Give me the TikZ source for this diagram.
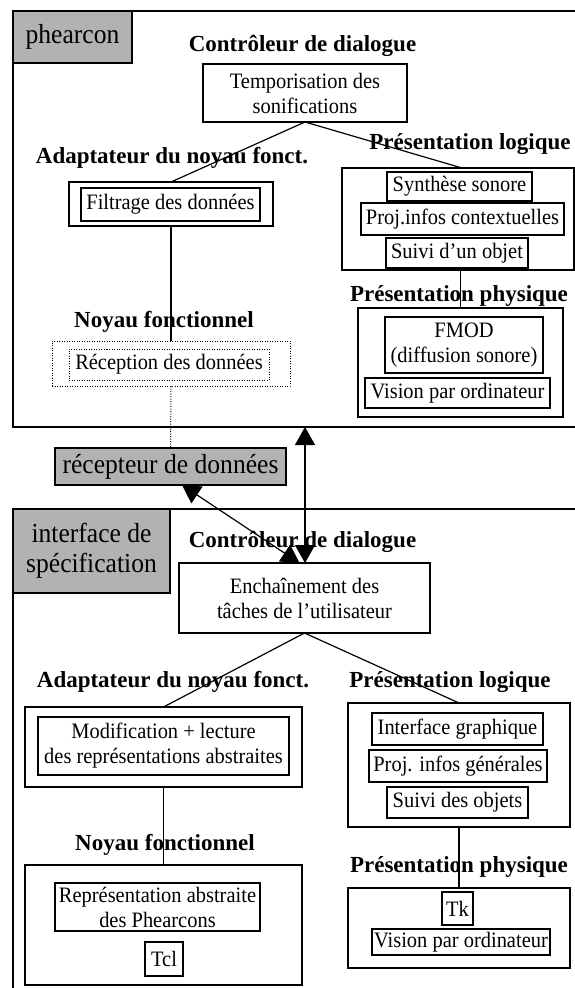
\documentclass[tikz,border=0pt]{standalone}
\usepackage{fontspec}
\setmainfont{Liberation Serif}
\newfontfamily\boxfont{Liberation Serif}[FakeStretch=0.93]
\usetikzlibrary{arrows.meta,calc}
\definecolor{boxgray}{gray}{0.70}
\newcommand{\rbox}[6]{\node[#1, minimum width={(#4-#3)*1pt}, minimum height={(#6-#5)*1pt}] (#2) at ({(#3+#4)/2},{(#5+#6)/2})}
\begin{document}
\begin{tikzpicture}[x=1pt,y=-1pt,
  bx/.style={draw, line width=1.3pt, inner sep=0pt, outer sep=0pt, align=center, font=\boxfont\fontsize{22}{25}\selectfont},
  gbx/.style={bx, fill=boxgray, font=\boxfont\fontsize{27.5}{30}\selectfont},
  dbx/.style={bx, line width=1pt, dash pattern=on 1pt off 1.5pt},
  ttl/.style={anchor=base, inner sep=0pt, font=\fontsize{23}{27}\selectfont\bfseries},
  frame/.style={line width=1.6pt},
  link/.style={line width=1.2pt},
  dlink/.style={line width=1pt, dash pattern=on 1pt off 1.5pt},
  arr/.style={line width=1.2pt, >={Triangle[length=18pt,width=20pt]}, <->}
]
\useasboundingbox (0,0) rectangle (575,988);

% frames
\draw[frame] (576,11) -- (13,11) -- (13,427) -- (576,427);
\draw[frame] (576,509) -- (13,509) -- (13,989);
\coordinate (ftop) at (305,427);

% ---------- top section ----------
\rbox{gbx}{phear}{13}{132}{11}{63} {phearcon};
\node[ttl] (t1) at (302.5,51) {Contrôleur de dialogue};
\rbox{bx}{temp}{203}{407}{64}{122} {Temporisation des\\sonifications};

\node[ttl] (t2) at (172,163) {Adaptateur du noyau fonct.};
\rbox{bx}{filtO}{69}{273}{182}{226} {};
\rbox{bx}{filtI}{81}{260}{188}{221} {Filtrage des données};

\node[ttl] (t3) at (470,149) {Présentation logique};
\rbox{bx}{plO}{342}{574}{168}{270} {};
\rbox{bx}{synth}{387}{532}{172}{201} {Synthèse sonore};
\rbox{bx}{proj1}{361}{564}{203}{235} {Proj.infos contextuelles};
\rbox{bx}{suivi1}{386}{528}{238}{268} {Suivi d’un objet};

\node[ttl] (t5) at (459,301) {Présentation physique};
\rbox{bx}{ppO}{358}{563}{308}{417} {};
\rbox{bx}{fmod}{385}{543}{317}{373} {FMOD\\(diffusion sonore)};
\rbox{bx}{vision1}{365}{550}{378}{408} {Vision par ordinateur};

\node[ttl] (t4) at (164,327) {Noyau fonctionnel};
\rbox{dbx}{recO}{52}{290}{341}{386} {};
\rbox{dbx}{recI}{69}{269}{349}{380} {Réception des données};

\rbox{gbx}{recepteur}{55}{286}{448}{485} {récepteur de données};

% ---------- bottom section ----------
\rbox{gbx}{iface}{13}{170}{509}{593} {interface de\\spécification};
\node[ttl] (t6) at (302.5,547) {Contrôleur de dialogue};
\rbox{bx}{ench}{179}{430}{563}{633} {Enchaînement des\\tâches de l’utilisateur};

\node[ttl] (t7) at (173,687) {Adaptateur du noyau fonct.};
\rbox{bx}{modO}{25}{302}{707}{787} {};
\rbox{bx}{modI}{38}{289}{717}{775} {Modification + lecture\\des représentations abstraites};

\node[ttl] (t8) at (450,687) {Présentation logique};
\rbox{bx}{pltwoO}{348}{570}{703}{827} {};
\rbox{bx}{igraph}{372}{543}{713}{745} {Interface graphique};
\rbox{bx}{proj2}{369}{547}{750}{782} {Proj. infos générales};
\rbox{bx}{suivi2}{387}{528}{787}{818} {Suivi des objets};

\node[ttl] (t9) at (165,850) {Noyau fonctionnel};
\rbox{bx}{nfO}{25}{302}{865}{985} {};
\rbox{bx}{repr}{55}{260}{883}{931} {Représentation abstraite\\des Phearcons};
\rbox{bx}{tcl}{145}{183}{942}{976} {Tcl};

\node[ttl] (t10) at (459,872) {Présentation physique};
\rbox{bx}{pptwoO}{348}{570}{888}{968} {};
\rbox{bx}{tk}{442}{473}{892}{925} {Tk};
\rbox{bx}{vision2}{372}{550}{929}{955} {Vision par ordinateur};

% ---------- connectors ----------
\draw[link] (temp.south) -- (filtO.north);
\draw[link] (temp.south) -- ($(plO.north)+(4,0)$);
\draw[link] (filtO.south) -- (recO.north);
\draw[link] (ppO.north) -- (ppO.north |- plO.south);
\draw[dlink] (recO.south) -- (recepteur.north);

\draw[link] (ench.south) -- (modO.north);
\draw[link] (ench.south) -- (pltwoO.north);
\draw[link] (modO.south) -- (nfO.north);
\draw[link] (pltwoO.south) -- (pptwoO.north);

\draw[arr] (ftop) -- (ench.north -| ftop);
\draw[arr] ($(recepteur.south)+(11.5,0)$) -- ($(ench.north)+(-5,0)$);
\end{tikzpicture}
\end{document}
